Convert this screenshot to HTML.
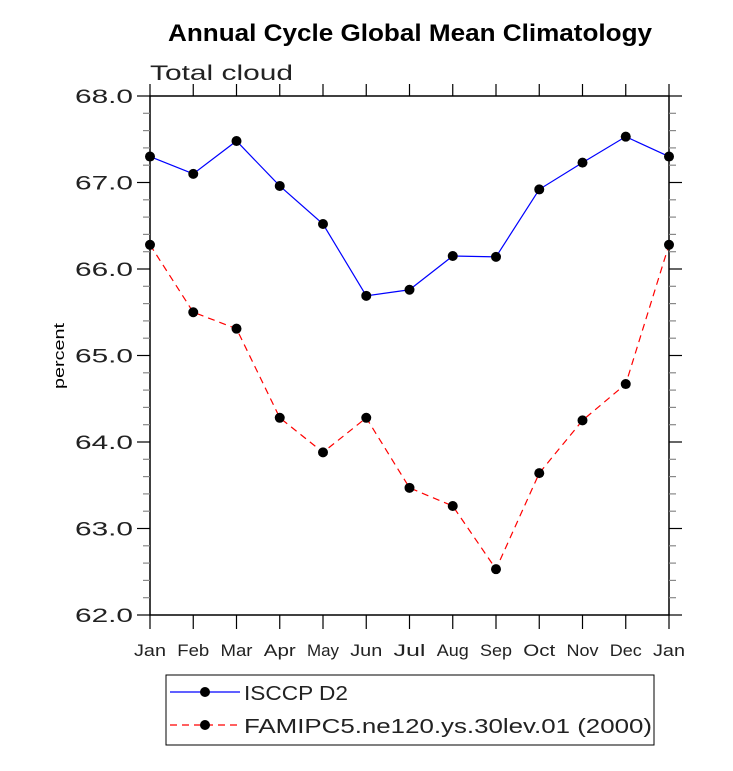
<!DOCTYPE html>
<html><head><meta charset="utf-8"><style>
body{margin:0;background:#fff;}
svg text{font-family:"Liberation Sans",sans-serif;}
</style></head><body>
<svg id="chart" width="733" height="766">
<text x="168" y="41" textLength="484" lengthAdjust="spacingAndGlyphs" font-size="24" font-weight="bold">Annual Cycle Global Mean Climatology</text>
<text x="150" y="80" textLength="143" lengthAdjust="spacingAndGlyphs" font-size="21" fill="#222">Total cloud</text>
<text transform="translate(64,356) rotate(-90)" text-anchor="middle" font-size="15" textLength="66" lengthAdjust="spacingAndGlyphs">percent</text>
<g id="axes"></g><g id="series"></g>
<rect x="166" y="675" width="488" height="70" fill="none" stroke="#000" stroke-width="1"/>
<line x1="170" y1="692" x2="240" y2="692" stroke="#00f" stroke-width="1.2"/>
<circle cx="205" cy="692" r="5" fill="#000"/>
<text x="244" y="700" textLength="104" lengthAdjust="spacingAndGlyphs" font-size="20" fill="#222">ISCCP D2</text>
<line x1="170" y1="725" x2="240" y2="725" stroke="#f00" stroke-width="1.2" stroke-dasharray="7,5"/>
<circle cx="205" cy="725" r="5" fill="#000"/>
<text x="244" y="733" textLength="408" lengthAdjust="spacingAndGlyphs" font-size="20" fill="#222">FAMIPC5.ne120.ys.30lev.01 (2000)</text>
</svg>
<script>
const months=["Jan","Feb","Mar","Apr","May","Jun","Jul","Aug","Sep","Oct","Nov","Dec","Jan"];
const isccp=[67.30,67.10,67.48,66.96,66.52,65.69,65.76,66.15,66.14,66.92,67.23,67.53,67.30];
const famip=[66.28,65.50,65.31,64.28,63.88,64.28,63.47,63.26,62.53,63.64,64.25,64.67,66.28];
const yTicks=["62.0","63.0","64.0","65.0","66.0","67.0","68.0"];
const L=150,R=669,T=96,B=615,ymin=62,ymax=68;
const NS="http://www.w3.org/2000/svg";
const xs=i=>L+(R-L)*i/(months.length-1);
const ys=v=>B-(B-T)*(v-ymin)/(ymax-ymin);
const ax=document.getElementById('axes'),se=document.getElementById('series');
function mk(tag,a,p){const e=document.createElementNS(NS,tag);for(const k in a)e.setAttribute(k,a[k]);p.appendChild(e);return e;}
let f=mk('rect',{x:L,y:T,width:R-L,height:B-T,fill:'none',stroke:'#000','stroke-width':1.5},ax);


for(let v=ymin;v<=ymax+1e-9;v+=0.2){
  const y=ys(v),maj=Math.abs(v-Math.round(v))<1e-6;const len=maj?13:7;
  let l1=mk('line',{x1:L-len,y1:y,x2:L,y2:y,stroke:maj?'#000':'#888','stroke-width':1.2},ax);
  
  
  let l2=mk('line',{x1:R,y1:y,x2:R+len,y2:y,stroke:maj?'#000':'#888','stroke-width':1.2},ax);
  
  
}
yTicks.forEach(t=>{
  let e=mk('text',{x:L-75,y:ys(parseFloat(t))+7,'font-size':19,fill:'#222',textLength:58,lengthAdjust:'spacingAndGlyphs'},ax);e.textContent=t;
  
  
});
months.forEach((m,i)=>{
  const x=xs(i);
  let a=mk('line',{x1:x,y1:B,x2:x,y2:B+14,stroke:'#000','stroke-width':1.2},ax);
  
  
  let b=mk('line',{x1:x,y1:T-12,x2:x,y2:T,stroke:'#000','stroke-width':1.2},ax);
  
  
  let t=mk('text',{x:x-16,y:656,'font-size':17,fill:'#222',textLength:32,lengthAdjust:'spacingAndGlyphs'},ax);t.textContent=m;
  
  
});
function draw(vals,color,dash,name){
  let p=mk('polyline',{points:vals.map((v,i)=>xs(i)+','+ys(v)).join(' '),fill:'none',stroke:color,'stroke-width':1.2,'stroke-dasharray':dash},se);
  
  
  vals.forEach((v,i)=>{
    let c=mk('circle',{cx:xs(i),cy:ys(v),r:5,fill:'#000'},se);
    
    
  });
}
draw(isccp,'#00f','none','isccp');
draw(famip,'#f00','7,5','famip');
</script>
</body></html>
